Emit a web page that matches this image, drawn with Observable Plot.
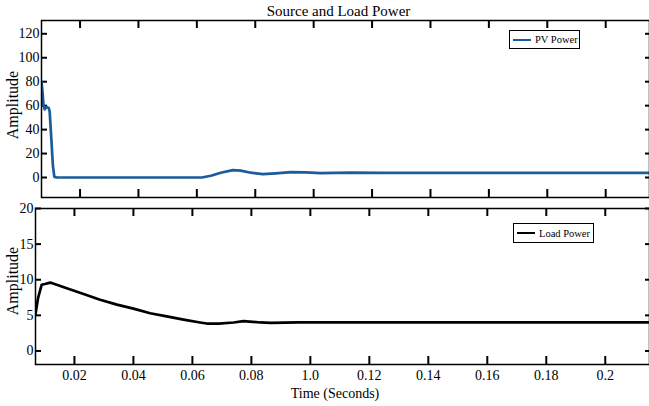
<!DOCTYPE html>
<html><head><meta charset="utf-8">
<script src="https://cdn.jsdelivr.net/npm/d3@7"></script>
<script src="https://cdn.jsdelivr.net/npm/@observablehq/plot@0.6"></script>
<style>
body{margin:0;background:#fff;}
#chart{position:relative;width:649px;height:406px;overflow:hidden;font-family:"Liberation Serif","Times New Roman",serif;background:#fff;}
#chart svg{display:block;}
.legend{position:absolute;border:1.5px solid #000;background:#fff;font-size:10.5px;display:flex;align-items:center;box-sizing:border-box;white-space:nowrap;color:#000;}
.legend .sw{display:inline-block;height:0;border-top:2.5px solid;margin:0 4px 0 3px;width:18px;}
</style></head><body><div id="chart"></div>
<script>
// PV power (top panel)
const pvTime  = [0.0068, 0.0072, 0.0075, 0.0079, 0.0086, 0.0093, 0.0096, 0.0101, 0.0107, 0.0112, 0.0120, 0.0300, 0.0617, 0.0648, 0.0682, 0.0723, 0.0750, 0.0785, 0.0826, 0.0870, 0.0922, 0.0973, 0.1024, 0.1127, 0.1230, 0.1367, 0.1600, 0.1900, 0.2150];
const pvPower = [80, 70, 60, 57, 59, 58, 55, 35, 10, 0.5, 0, 0, 0, 1.5, 4, 6.2, 5.8, 4, 2.8, 3.5, 4.5, 4.2, 3.7, 4.1, 3.9, 3.8, 3.8, 3.8, 3.8];
// Load power (bottom panel)
const loadTime  = [0.0068, 0.0077, 0.0089, 0.0100, 0.0118, 0.0174, 0.0231, 0.0287, 0.0344, 0.0400, 0.0457, 0.0513, 0.0570, 0.0626, 0.0649, 0.0690, 0.0740, 0.0773, 0.0830, 0.0865, 0.0960, 0.1200, 0.1600, 0.2150];
const loadPower = [5.2, 7.5, 9.3, 9.4, 9.6, 8.8, 8.0, 7.2, 6.5, 5.95, 5.3, 4.85, 4.4, 4.0, 3.85, 3.85, 4.0, 4.2, 4.0, 3.95, 4.0, 4.0, 4.0, 4.0];
// Axes
const xTicks = [0.02, 0.04, 0.06, 0.08, 0.10, 0.12, 0.14, 0.16, 0.18, 0.2];
const xTickLabels = ["0.02", "0.04", "0.06", "0.08", "1.0", "0.12", "0.14", "0.16", "0.18", "0.2"];
const topYTicks = [0, 20, 40, 60, 80, 100, 120];
const bottomYTicks = [0, 5, 10, 15, 20];
const titleText = "Source and Load Power";
const yLabelText = "Amplitude";
const xLabelText = "Time (Seconds)";
const seriesNames = ["PV Power", "Load Power"];
const seriesColors = ["#1c5c9c", "#000000"];

const pv = pvTime.map((t, i) => ({t, v: pvPower[i]}));
const load = loadTime.map((t, i) => ({t, v: loadPower[i]}));
const xDomain = [0.0068, 0.215];
const fmtX = d => xTickLabels[xTicks.indexOf(d)];
const font = {fontFamily: "Liberation Serif, Times New Roman, serif", fontSize: "14px", color: "#000", background: "#fff", overflow: "visible"};

// inward tick marks on all four sides
function inwardTicks(yTicks, frameW, frameH) {
  const s = {stroke: "#000", strokeWidth: 2};
  return [
    Plot.tickX(xTicks, {x: d => d, insetBottom: frameH - 8, ...s}),
    Plot.tickX(xTicks, {x: d => d, insetTop: frameH - 8, ...s}),
    Plot.tickY(yTicks, {y: d => d, insetRight: frameW - 6, ...s}),
    Plot.tickY(yTicks, {y: d => d, insetLeft: frameW - 4, ...s})
  ];
}

const topPlot = Plot.plot({
  width: 649, height: 200, marginTop: 20, marginBottom: 3, marginLeft: 41, marginRight: 0,
  style: font,
  x: {domain: xDomain, label: null, axis: null},
  y: {domain: [-16.7, 131.1], label: null, axis: null},
  marks: [
    ...inwardTicks(topYTicks, 608, 177),
    Plot.axisY({anchor: "left", ticks: topYTicks, tickSize: 0, tickPadding: 2, label: null}),
    Plot.line(pv, {x: "t", y: "v", stroke: seriesColors[0], strokeWidth: 2.7, clip: true}),
    Plot.frame({stroke: "#000", strokeWidth: 1.5}),
    Plot.text([yLabelText], {text: d => d, frameAnchor: "left", textAnchor: "middle", lineAnchor: "middle", rotate: -90, dx: -28.5, dy: -4, fontSize: 16}),
    Plot.text([titleText], {text: d => d, frameAnchor: "top", textAnchor: "middle", lineAnchor: "middle", dx: -7, dy: -9, fontSize: 15})
  ]
});

const bottomPlot = Plot.plot({
  width: 649, height: 206, marginTop: 8, marginBottom: 42, marginLeft: 35, marginRight: 0,
  style: font,
  x: {domain: xDomain, label: null, axis: null},
  y: {domain: [-1.9, 20], label: null, axis: null},
  marks: [
    ...inwardTicks(bottomYTicks, 614, 156),
    Plot.axisX({anchor: "bottom", ticks: xTicks, tickSize: 0, tickPadding: 6, tickFormat: fmtX, label: null}),
    Plot.axisY({anchor: "left", ticks: bottomYTicks, tickSize: 0, tickPadding: 2, label: null}),
    Plot.line(load, {x: "t", y: "v", stroke: seriesColors[1], strokeWidth: 2.7, clip: true}),
    Plot.frame({stroke: "#000", strokeWidth: 1.5}),
    Plot.text([yLabelText], {text: d => d, frameAnchor: "left", textAnchor: "middle", lineAnchor: "middle", rotate: -90, dx: -22.5, dy: -5.5, fontSize: 16}),
    Plot.text([xLabelText], {text: d => d, frameAnchor: "bottom", textAnchor: "middle", lineAnchor: "middle", dx: -7.5, dy: 29, fontSize: 14})
  ]
});

const chart = document.getElementById("chart");
chart.appendChild(topPlot);
chart.appendChild(bottomPlot);

function addLegend(name, color, left, top, w, h) {
  const d = document.createElement("div");
  d.className = "legend";
  d.style.left = left + "px"; d.style.top = top + "px";
  d.style.width = w + "px"; d.style.height = h + "px";
  const sw = document.createElement("span");
  sw.className = "sw"; sw.style.borderTopColor = color;
  const tx = document.createElement("span");
  tx.textContent = name;
  d.appendChild(sw); d.appendChild(tx);
  chart.appendChild(d);
}
addLegend(seriesNames[0], seriesColors[0], 509, 30, 71, 19);
addLegend(seriesNames[1], seriesColors[1], 513, 223, 81, 20);
</script></body></html>
